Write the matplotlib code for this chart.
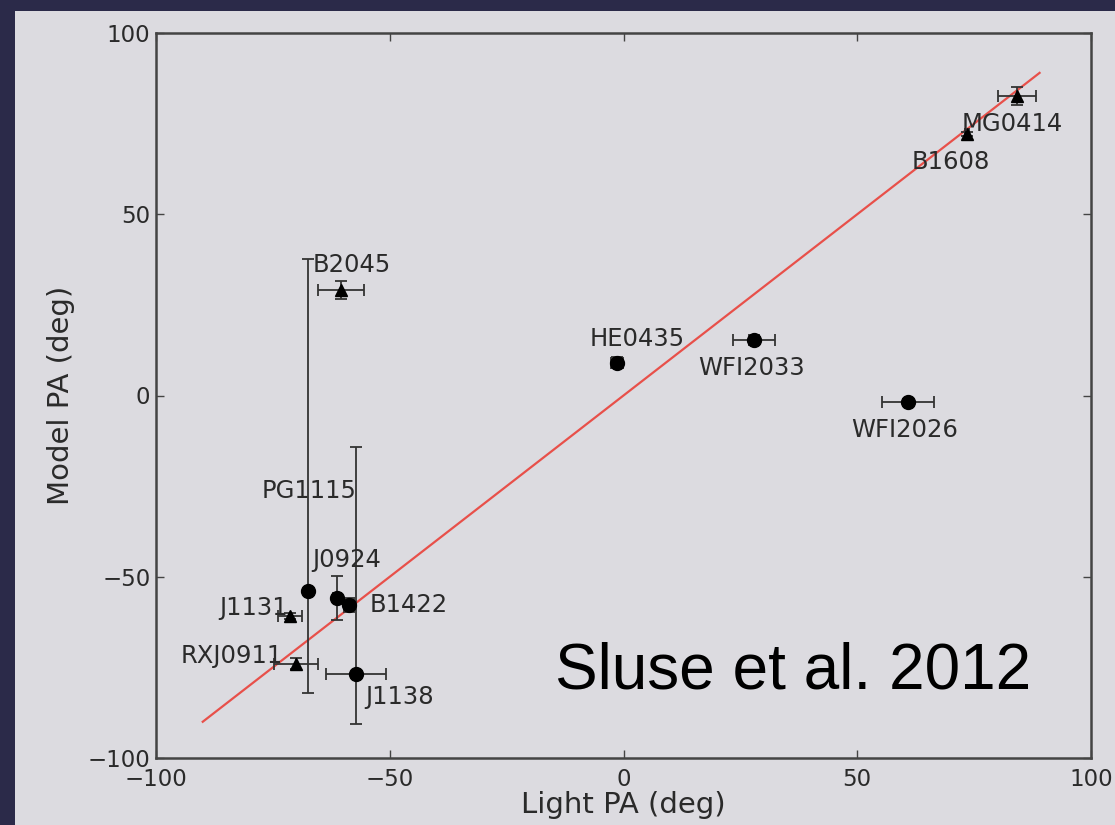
import numpy as np
import matplotlib.pyplot as plt
from matplotlib.patches import Rectangle

# lens systems: light PA vs model PA (Sluse et al. 2012)
names = ['MG0414', 'B1608', 'B2045', 'HE0435', 'WFI2033', 'WFI2026',
         'PG1115', 'J0924', 'B1422', 'J1131', 'RXJ0911', 'J1138']
light_pa = [84.2, 73.5, -60.4, -1.4, 27.9, 60.9,
            -67.5, -61.3, -58.7, -71.3, -70.0, -57.2]
model_pa = [82.6, 72.1, 29.1, 9.0, 15.3, -1.8,
            -54.0, -55.9, -57.8, -60.8, -74.0, -76.8]
light_err = [4.0, 0.5, 4.9, 1.2, 4.5, 5.6,
             0.5, 0.8, 1.0, 2.5, 4.7, 6.5]
model_err_lo = [2.5, 0.5, 2.5, 1.5, 1.5, 0.8,
                28.0, 6.0, 2.0, 0.8, 1.5, 13.8]
model_err_hi = [2.5, 0.5, 2.5, 1.5, 1.5, 0.8,
                91.7, 6.0, 2.0, 0.8, 1.5, 62.6]
markers = ['^', '^', '^', 'o', 'o', 'o',
           'o', 'o', 'o', '^', '^', 'o']

# where the name labels sit (left edge, vertical centre)
label_x = [72.4, 61.7, -66.4, -7.2, 15.9, 48.8,
           -77.3, -66.6, -54.2, -86.5, -94.8, -55.3]
label_y = [74.9, 64.4, 36.0, 15.6, 7.6, -9.5,
           -26.3, -45.4, -57.8, -58.6, -72.0, -83.2]

line_x = [-90, 89]

fig = plt.figure(figsize=(11.15, 8.25), dpi=100)
fig.patch.set_facecolor('#2b2a49')
fig.patches.append(Rectangle((15 / 1115, 0), 1, 1 - 11 / 825,
                             transform=fig.transFigure, facecolor='#dcdbe0',
                             edgecolor='none', zorder=-10))

ax = fig.add_axes([156 / 1115, 1 - 758 / 825, (1091 - 156) / 1115, (758 - 33) / 825])
ax.set_zorder(5)
ax.set_facecolor('#dcdbe0')

ax.plot(line_x, line_x, color='#e8504a', lw=1.6, zorder=2)

for i in range(len(names)):
    ax.errorbar(light_pa[i], model_pa[i], xerr=light_err[i],
                yerr=[[model_err_lo[i]], [model_err_hi[i]]],
                fmt=markers[i], color='black', ms=10 if markers[i] == 'o' else 9,
                ecolor='#333333', elinewidth=1.3, capsize=4, capthick=1.3, zorder=3)
    ax.text(label_x[i], label_y[i], names[i], fontsize=17.5, color='#2a2a2a',
            va='center', ha='left', zorder=4)

ax.text(-14.6, -80.8, 'Sluse et al. 2012', fontsize=46, color='black',
        family='Liberation Sans', va='baseline', ha='left')

ax.set_xlim(-100, 100)
ax.set_ylim(-100, 100)
ax.set_xticks([-100, -50, 0, 50, 100])
ax.set_yticks([-100, -50, 0, 50, 100])
ax.tick_params(direction='in', top=True, right=True, length=6, width=1,
               labelsize=16.5, colors='#444444', labelcolor='#2a2a2a')
ax.tick_params(axis='x', pad=7)
ax.tick_params(axis='y', pad=4)
for s in ax.spines.values():
    s.set_color('#444444')
    s.set_linewidth(1.8)

ax.set_xlabel('Light PA (deg)', fontsize=21, color='#2a2a2a')
ax.set_ylabel('Model PA (deg)', fontsize=21, color='#2a2a2a')
ax.xaxis.set_label_coords(0.5, -0.046)
ax.yaxis.set_label_coords(-0.087, 0.5)

fig.savefig('out.png', dpi=100, facecolor=fig.get_facecolor())
